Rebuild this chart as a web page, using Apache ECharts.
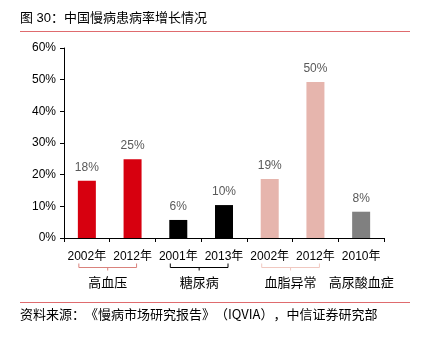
<!DOCTYPE html>
<html><head><meta charset="utf-8">
<script src="https://cdn.jsdelivr.net/npm/echarts@6/dist/echarts.min.js"></script>
<style>html,body{margin:0;padding:0;background:#fff}#c{width:425px;height:344px}</style>
</head><body><div id="c"></div>
<script>
var categories = ['2002年','2012年','2001年','2013年','2002年','2012年','2010年'];
var values = [18.1, 24.9, 5.7, 10.4, 18.6, 49.3, 8.3];
var labels = ['18%','25%','6%','10%','19%','50%','8%'];
var barColors = ['#d7000f','#d7000f','#000000','#000000','#e6b5ad','#e6b5ad','#808080'];
var groups = ['高血压','糖尿病','血脂异常','高尿酸血症'];
var groupStart = [0, 2, 4, 6];
var groupEnd = [1, 3, 5, 6];
var bracketColors = ['#d9827c','#000000','#f0c8c0', null];
var footerParts = ['资料来源：', '《慢病市场研究报告》', '（IQVIA）', '，中信证券研究部'];

var FONT = '"Liberation Sans", Arial, "Noto Sans CJK SC", sans-serif';
var CJK = '"Noto Sans CJK SC", "Liberation Sans", sans-serif';
var chart = echarts.init(document.getElementById('c'));
var option = {
  animation: false,
  textStyle: {fontFamily: FONT},
  grid: {left: 64, right: 41, top: 48, bottom: 106},
  xAxis: {
    type: 'category', data: categories,
    axisLine: {lineStyle: {color: '#000', width: 1}},
    axisTick: {show: true, length: 4, lineStyle: {color: '#000'}},
    axisLabel: {color: '#000', fontSize: 12, margin: 13, fontFamily: FONT, interval: 0}
  },
  yAxis: {
    type: 'value', min: 0, max: 60, interval: 10,
    axisLine: {show: true, lineStyle: {color: '#000'}},
    axisTick: {show: true, length: 4, lineStyle: {color: '#000'}},
    splitLine: {show: false},
    axisLabel: {color: '#000', fontSize: 12, margin: 8, fontFamily: FONT, formatter: '{value}%'}
  },
  series: [{
    type: 'bar', barWidth: 18,
    data: values.map(function(v, i){
      return {value: v, itemStyle: {color: barColors[i]},
        label: {formatter: labels[i]}};
    }),
    label: {show: true, position: 'top', distance: 7, color: '#595959', fontSize: 12, fontFamily: FONT}
  }]
};
chart.setOption(option);

var g = [];
g.push({type: 'text', left: 20, top: 12, style: {text: '图 30：中国慢病患病率增长情况', fontSize: 13, fill: '#000', fontFamily: FONT}});
g.push({type: 'line', shape: {x1: 20, y1: 31.5, x2: 410, y2: 31.5}, style: {stroke: '#df6b6e', lineWidth: 1}});
g.push({type: 'line', shape: {x1: 20, y1: 302.5, x2: 410, y2: 302.5}, style: {stroke: '#df6b6e', lineWidth: 1}});
g.push({type: 'text', left: 20, top: 308, style: {
  text: footerParts.map(function(p){ return '{a|' + p + '}'; }).join(''),
  rich: {a: {fontSize: 13, fill: '#000', fontFamily: CJK}},
  fontSize: 13, fill: '#000', fontFamily: CJK}});

var by = 267.5;
for (var i = 0; i < groups.length; i++) {
  var xs = chart.convertToPixel({xAxisIndex: 0}, groupStart[i]);
  var xe = chart.convertToPixel({xAxisIndex: 0}, groupEnd[i]);
  var cx = (xs + xe) / 2;
  if (bracketColors[i]) {
    var x1 = xs - 8, x2 = xe + 4;
    g.push({type: 'polyline', shape: {points: [[x1, by - 4], [x1, by], [x2, by], [x2, by - 4]]}, style: {stroke: bracketColors[i], lineWidth: 1, fill: null}});
    g.push({type: 'line', shape: {x1: (x1 + x2) / 2, y1: by, x2: (x1 + x2) / 2, y2: by + 3}, style: {stroke: bracketColors[i], lineWidth: 1}});
    cx = (x1 + x2) / 2;
  }
  g.push({type: 'text', x: cx, y: 283, style: {text: groups[i], fontSize: 13, fill: '#000', fontFamily: FONT, textAlign: 'center', textVerticalAlign: 'middle'}});
}
chart.setOption({graphic: g});
</script></body></html>
